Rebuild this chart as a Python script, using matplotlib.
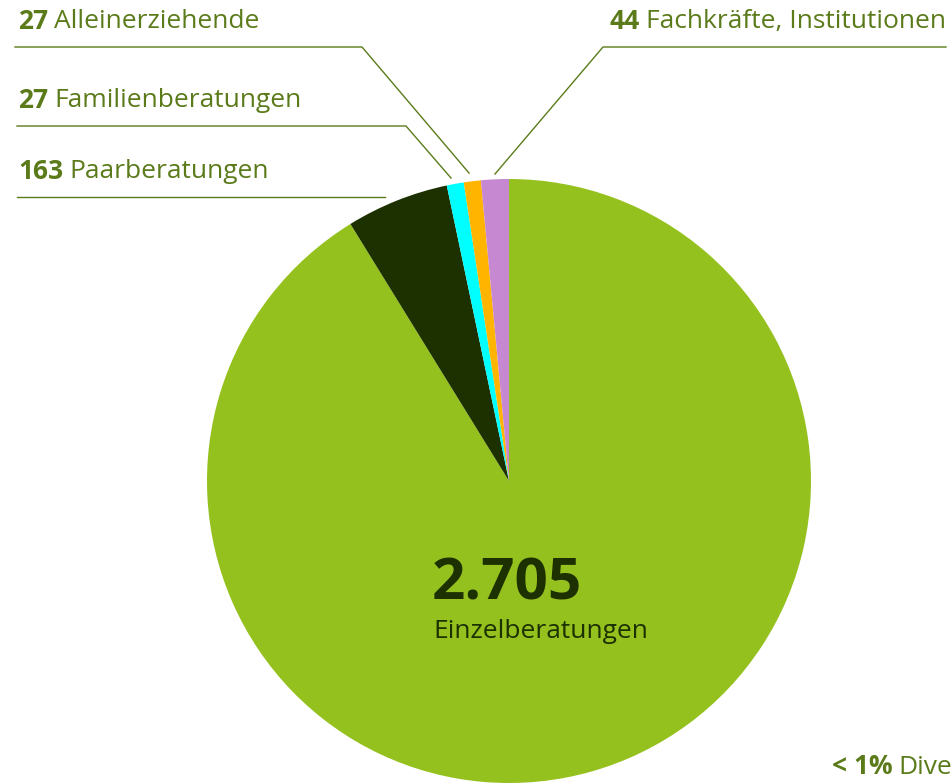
import matplotlib.pyplot as plt
from matplotlib.transforms import offset_copy

plt.rcParams['font.family'] = ['Open Sans', 'DejaVu Sans']

# Daten
kategorien = ["Einzelberatungen", "Paarberatungen", "Familienberatungen",
              "Alleinerziehende", "Fachkräfte, Institutionen"]
werte = [2705, 163, 27, 27, 44]
farben = ["#95C11F", "#1C3000", "#00FFFF", "#FFB400", "#C788D2"]

olive = "#5B7B1A"
dunkel = "#1C3000"

W, H = 952, 784
fig = plt.figure(figsize=(W / 100, H / 100), dpi=100)
ax = fig.add_axes([0, 0, 1, 1])

# Kreis (y-Achse invertiert -> counterclock=True ergibt im Bild Uhrzeigersinn)
ax.pie(werte, colors=farben, startangle=-90, counterclock=True,
       center=(509, 481), radius=302, frame=True,
       wedgeprops=dict(linewidth=0))
ax.set_xlim(0, W)
ax.set_ylim(H, 0)
ax.set_aspect("equal")
ax.axis("off")

renderer = fig.canvas.get_renderer()


def beschriftung(x, y, zahl, name, ha="left", farbe=olive, size=19):
    if ha == "left":
        t = ax.text(x, y, zahl, fontsize=size, fontweight="bold", color=farbe,
                    va="center", ha="left")
        bb = t.get_window_extent(renderer)
        tr = offset_copy(ax.transData, fig=fig, x=bb.width + 6, y=0, units="dots")
        ax.text(x, y, name, fontsize=size, color=farbe, va="center", ha="left",
                transform=tr)
    else:
        t = ax.text(x, y, name, fontsize=size, color=farbe, va="center", ha="right")
        bb = t.get_window_extent(renderer)
        tr = offset_copy(ax.transData, fig=fig, x=-(bb.width + 6), y=0, units="dots")
        ax.text(x, y, zahl, fontsize=size, fontweight="bold", color=farbe,
                va="center", ha="right", transform=tr)


# Beschriftungen mit Linien
beschriftung(18, 21, str(werte[3]), kategorien[3])
ax.plot([15, 362, 469], [47, 47, 173], color=olive, lw=1)

beschriftung(18, 100, str(werte[2]), kategorien[2])
ax.plot([17, 406, 451], [126, 126, 178], color=olive, lw=1)

beschriftung(18, 171, str(werte[1]), kategorien[1])
ax.plot([17, 385], [197, 197], color=olive, lw=1)

beschriftung(946, 21, str(werte[4]), kategorien[4], ha="right")
ax.plot([946, 603, 495], [47, 47, 174], color=olive, lw=1)

# Mitte
ax.text(432, 584, f"{werte[0]:,}".replace(",", "."), fontsize=42,
        fontweight="bold", color=dunkel, va="center", ha="left")
ax.text(433, 632, kategorien[0], fontsize=19, color=dunkel, va="center", ha="left")

# unten rechts (im Original am Rand abgeschnitten)
beschriftung(832, 767, "< 1%", "Diverse")

fig.savefig("out.png", dpi=100)
